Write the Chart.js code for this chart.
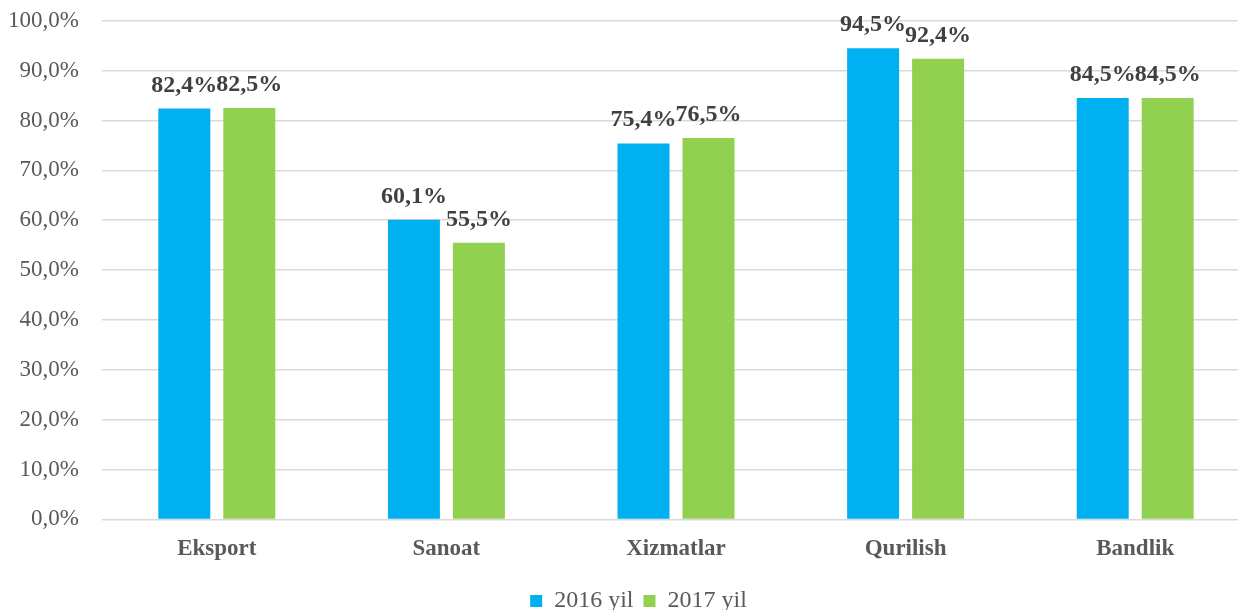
<!DOCTYPE html>
<html>
<head>
<meta charset="utf-8">
<script src="https://cdn.jsdelivr.net/npm/chart.js@4.4.1/dist/chart.umd.min.js"></script>
<style>
html,body{margin:0;padding:0;background:#fff;overflow:hidden;width:1238px;height:610px;}
#wrap{position:absolute;left:0;top:-16px;width:1250px;height:639px;}
</style>
</head>
<body>
<div id="wrap"><canvas id="c" width="1250" height="639"></canvas></div>
<script>
const categories = ['Eksport', 'Sanoat', 'Xizmatlar', 'Qurilish', 'Bandlik'];
const seriesNames = ['2016 yil', '2017 yil'];
const values2016 = [82.4, 60.1, 75.4, 94.5, 84.5];
const values2017 = [82.5, 55.5, 76.5, 92.4, 84.5];
const yTicks = [0, 10, 20, 30, 40, 50, 60, 70, 80, 90, 100];

const fmt = v => v.toFixed(1).replace('.', ',') + '%';
const FONT = "'Liberation Serif', 'Times New Roman', serif";

const labelPlugin = {
  id: 'valueLabels',
  afterLayout(chart) {
    if (chart.legend) { chart.legend.left += 27; }
  },
  afterDatasetsDraw(chart) {
    const ctx = chart.ctx;
    ctx.save();
    ctx.font = 'bold 24px ' + FONT;
    ctx.fillStyle = '#404040';
    ctx.textAlign = 'center';
    ctx.textBaseline = 'alphabetic';
    chart.data.datasets.forEach((ds, i) => {
      chart.getDatasetMeta(i).data.forEach((bar, j) => {
        ctx.fillText(fmt(ds.data[j]), bar.x, bar.y - 17);
      });
    });
    ctx.restore();
  }
};

new Chart(document.getElementById('c'), {
  type: 'bar',
  data: {
    labels: categories,
    datasets: [
      { label: seriesNames[0], data: values2016, backgroundColor: '#00B0F0', borderWidth: 0 },
      { label: seriesNames[1], data: values2017, backgroundColor: '#92D050', borderWidth: 0 }
    ]
  },
  options: {
    responsive: false,
    animation: false,
    devicePixelRatio: 1,
    categoryPercentage: 0.566,
    barPercentage: 0.8,
    layout: { padding: { left: 0, right: 0, top: 3, bottom: 0 } },
    scales: {
      x: {
        grid: { display: false, drawTicks: false },
        border: { display: false },
        ticks: { color: '#595959', font: { family: FONT, size: 23, weight: 'bold' }, padding: 16 }
      },
      y: {
        min: 0, max: 100,
        afterBuildTicks: s => { s.ticks = yTicks.map(v => ({ value: v })); },
        afterFit: s => { s.width = 102; },
        grid: { color: '#d9d9d9', lineWidth: 1.5, drawTicks: false },
        border: { display: false },
        ticks: { color: '#595959', font: { family: FONT, size: 23 }, padding: 23, callback: v => fmt(v) }
      }
    },
    plugins: {
      legend: {
        position: 'bottom',
        labels: { color: '#595959', font: { family: FONT, size: 24 }, boxWidth: 12, boxHeight: 12, padding: 10 }
      },
      tooltip: { enabled: false }
    }
  },
  plugins: [labelPlugin]
});
</script>
</body>
</html>
